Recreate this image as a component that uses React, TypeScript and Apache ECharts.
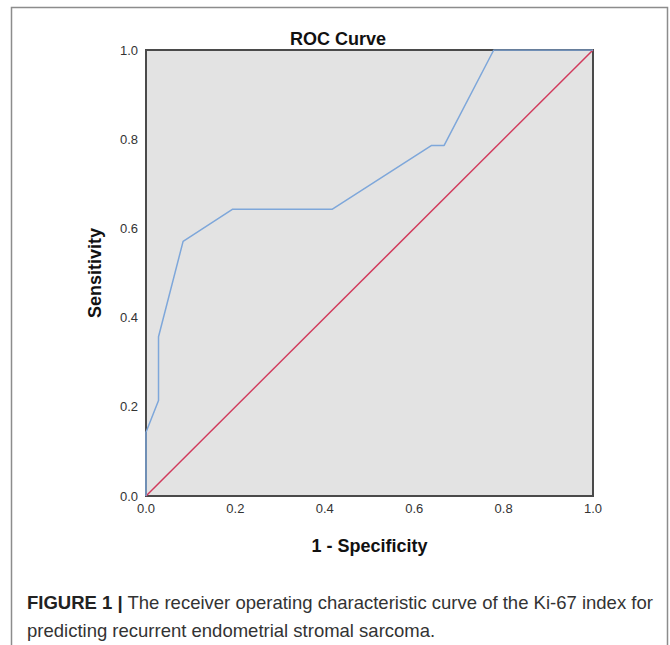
import React, { useEffect, useRef } from "react";
import * as echarts from "echarts";

const fpr = [0, 0, 0.028, 0.028, 0.083, 0.194, 0.417, 0.639, 0.667, 0.778, 1.0];
const sensitivity = [0, 0.143, 0.214, 0.357, 0.571, 0.643, 0.643, 0.786, 0.786, 1.0, 1.0];
const refX = [0, 1];
const refY = [0, 1];

const titleText = "ROC Curve";
const xTitle = "1 - Specificity";
const yTitle = "Sensitivity";
const captionBold = "FIGURE 1 |";
const captionLine1 = " The receiver operating characteristic curve of the Ki-67 index for";
const captionLine2 = "predicting recurrent endometrial stromal sarcoma.";

export default function App() {
  const ref = useRef<HTMLDivElement>(null);
  useEffect(() => {
    if (!ref.current) return;
    const chart = echarts.init(ref.current, null, { renderer: "svg" });
    const font = "'Liberation Sans', Arial, sans-serif";
    chart.setOption({
      animation: false,
      backgroundColor: "#ffffff",
      textStyle: { fontFamily: font },
      title: {
        text: titleText,
        left: 333,
        top: 25,
        textAlign: "center",
        textStyle: { fontSize: 18, fontWeight: "bold", color: "#111", fontFamily: font },
      },
      grid: {
        left: 146,
        top: 50,
        width: 447,
        height: 446,
        show: true,
        backgroundColor: "#e3e3e3",
        borderColor: "#4a4a4a",
        borderWidth: 2,
        outerBoundsMode: "none",
      },
      xAxis: {
        type: "value",
        min: 0,
        max: 1,
        interval: 0.2,
        name: xTitle,
        nameLocation: "middle",
        nameGap: 41,
        nameTextStyle: { fontSize: 18, fontWeight: "bold", color: "#111", fontFamily: font },
        axisLine: { show: true, lineStyle: { color: "#4a4a4a", width: 2 } },
        axisTick: { show: false },
        splitLine: { show: false },
        axisLabel: {
          fontSize: 13,
          color: "#333",
          margin: 6,
          formatter: (v: number) => v.toFixed(1),
        },
      },
      yAxis: {
        type: "value",
        min: 0,
        max: 1,
        interval: 0.2,
        name: yTitle,
        nameLocation: "middle",
        nameGap: 42,
        nameTextStyle: { fontSize: 18, fontWeight: "bold", color: "#111", fontFamily: font },
        axisLine: { show: true, lineStyle: { color: "#4a4a4a", width: 2 } },
        axisTick: { show: false },
        splitLine: { show: false },
        axisLabel: {
          fontSize: 13,
          color: "#333",
          margin: 8,
          formatter: (v: number) => v.toFixed(1),
        },
      },
      series: [
        {
          type: "line",
          data: refX.map((x, i) => [x, refY[i]]),
          showSymbol: false,
          lineStyle: { color: "#d13a5c", width: 1.5 },
          z: 2,
        },
        {
          type: "line",
          data: fpr.map((x, i) => [x, sensitivity[i]]),
          showSymbol: false,
          lineStyle: { color: "#7ea7da", width: 1.5 },
          z: 3,
        },
      ],
      graphic: [
        {
          type: "rect",
          shape: { x: 11.5, y: 7.5, width: 656, height: 660 },
          style: { fill: "none", stroke: "#8c8c8c", lineWidth: 1.5 },
          silent: true,
        },
        {
          type: "text",
          x: 27,
          y: 602,
          style: {
            text: "{b|" + captionBold + "}{n|" + captionLine1 + "}",
            verticalAlign: "middle",
            rich: {
              b: { fontSize: 18.5, fontWeight: "bold", fill: "#222", fontFamily: font },
              n: { fontSize: 18.5, fill: "#333", fontFamily: font },
            },
          },
        },
        {
          type: "text",
          x: 27,
          y: 630,
          style: {
            text: captionLine2,
            fontSize: 18.5,
            fill: "#333",
            fontFamily: font,
            verticalAlign: "middle",
          },
        },
      ],
    });
    return () => chart.dispose();
  }, []);
  return (
    <div
      ref={ref}
      style={{ position: "fixed", left: 0, top: 0, width: 670, height: 645 }}
    />
  );
}
